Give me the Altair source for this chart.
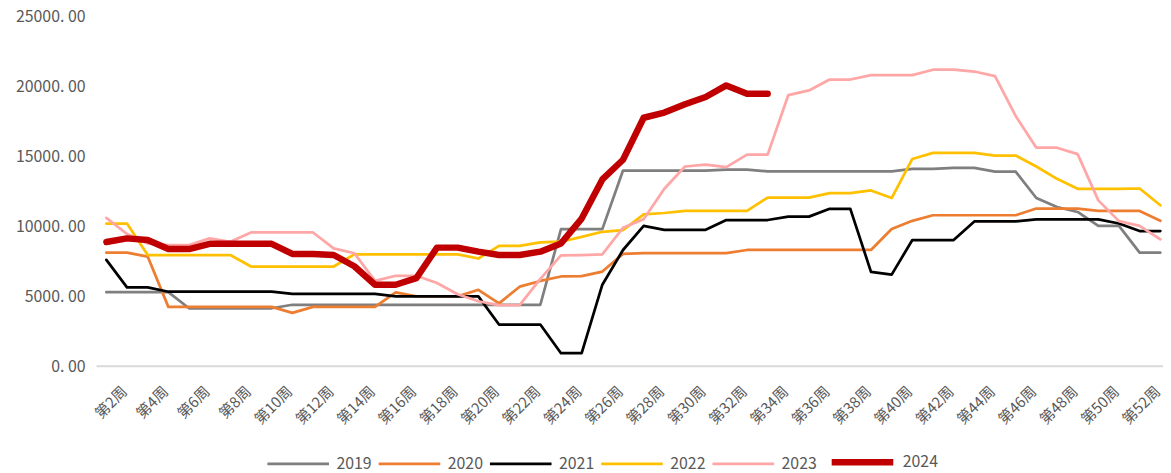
import altair as alt
import pandas as pd

weeks = list(range(1, 53))
years = ["2019", "2020", "2021", "2022", "2023", "2024"]
colors = ["#7F7F7F", "#ED7D31", "#000000", "#FFC000", "#FFA6A6", "#C00000"]
widths = [2.75, 2.75, 2.75, 2.75, 2.75, 6.5]
tick_weeks = [2, 4, 6, 8, 10, 12, 14, 16, 18, 20, 22, 24, 26, 28, 30, 32, 34,
              36, 38, 40, 42, 44, 46, 48, 50, 52]
y_ticks = [0, 5000, 10000, 15000, 20000, 25000]

v2019 = [5250, 5250, 5250, 5250, 4100, 4100, 4100, 4100, 4100, 4350,
         4350, 4350, 4350, 4350, 4350, 4350, 4350, 4350, 4350, 4350,
         4350, 4350, 9750, 9750, 9750, 13930, 13930, 13930, 13930, 13930,
         14000, 14000, 13870, 13870, 13870, 13870, 13870, 13870, 13870, 14050,
         14050, 14120, 14120, 13860, 13860, 11970, 11330, 10975, 9980, 9980,
         8070, 8070]
v2020 = [8070, 8070, 7790, 4200, 4200, 4200, 4200, 4200, 4200, 3770,
         4200, 4200, 4200, 4200, 5230, 4950, 4950, 4950, 5420, 4450,
         5640, 6050, 6370, 6390, 6720, 7980, 8030, 8030, 8030, 8030,
         8030, 8260, 8260, 8260, 8260, 8260, 8260, 8260, 9760, 10340,
         10740, 10740, 10740, 10740, 10740, 11220, 11220, 11220, 11050, 11050,
         11050, 10340]
v2021 = [7550, 5590, 5590, 5280, 5280, 5280, 5280, 5280, 5280, 5120,
         5120, 5120, 5120, 5120, 4950, 4950, 4950, 4950, 4950, 2940,
         2940, 2940, 890, 890, 5780, 8260, 9980, 9700, 9700, 9700,
         10400, 10400, 10400, 10640, 10640, 11200, 11200, 6700, 6500, 8970,
         8970, 8970, 10300, 10300, 10300, 10450, 10450, 10450, 10450, 10150,
         9610, 9610]
v2022 = [10150, 10150, 7900, 7900, 7900, 7900, 7900, 7080, 7080, 7080,
         7080, 7080, 7950, 7950, 7950, 7950, 7950, 7950, 7650, 8550,
         8550, 8800, 8850, 9200, 9560, 9680, 10800, 10900, 11050, 11050,
         11050, 11050, 12000, 12000, 12000, 12320, 12320, 12510, 11970, 14760,
         15190, 15190, 15190, 15000, 15000, 14220, 13340, 12630, 12630, 12630,
         12650, 11450]
v2023 = [10550, 9400, 8730, 8610, 8610, 9090, 8850, 9510, 9510, 9510,
         9510, 8380, 8030, 6060, 6420, 6420, 5900, 5100, 4600, 4330,
         4330, 6200, 7870, 7900, 7950, 9850, 10450, 12630, 14220, 14360,
         14170, 15070, 15070, 19320, 19650, 20430, 20430, 20740, 20740, 20740,
         21130, 21130, 21000, 20670, 17830, 15560, 15560, 15100, 11800, 10320,
         9980, 9020]
v2024 = [8830, 9090, 8970, 8330, 8330, 8700, 8700, 8700, 8700, 7980,
         7980, 7900, 7100, 5780, 5780, 6250, 8430, 8430, 8140, 7900,
         7900, 8140, 8730, 10500, 13300, 14700, 17700, 18070, 18660, 19180,
         20010, 19410, 19410]

series = [v2019, v2020, v2021, v2022, v2023, v2024]
rows = []
for yr, vals in zip(years, series):
    for w, v in zip(weeks, vals):
        rows.append({"week": w, "year": yr, "value": v})
df = pd.DataFrame(rows)

FONT = "Noto Sans CJK SC"
TXT = "#595959"


def make_legend():
    return alt.Legend(
        title=None, orient="none", direction="horizontal",
        legendX=171, legendY=415,
        symbolType="stroke", symbolSize=3844,
        labelFontSize=16, labelColor=TXT, labelFont=FONT,
        labelOffset=6, columnPadding=1, padding=0)


chart = alt.Chart(df).mark_line(strokeJoin="round", strokeCap="round").encode(
    x=alt.X("week:Q",
            scale=alt.Scale(domain=[0.5, 52.13], nice=False, zero=False),
            axis=alt.Axis(values=tick_weeks, title=None, grid=False, ticks=False,
                          labelExpr="'第' + datum.value + '周'",
                          labelAngle=-45, labelAlign="right", labelBaseline="middle",
                          labelPadding=23, labelOffset=-3, labelFontSize=15,
                          labelColor=TXT, labelFont=FONT, labelOverlap=False,
                          labelBound=False, labelFlush=False,
                          domainColor="#D9D9D9", domainWidth=2)),
    y=alt.Y("value:Q",
            scale=alt.Scale(domain=[0, 25000], nice=False),
            axis=alt.Axis(values=y_ticks, title=None, grid=False, ticks=False,
                          domain=False, labelOffset=1,
                          labelExpr="replace(format(datum.value, '.2f'), '.', '. ')",
                          labelPadding=11, labelFontSize=16, labelColor=TXT,
                          labelFont=FONT)),
    color=alt.Color("year:N",
                    scale=alt.Scale(domain=years, range=colors),
                    legend=make_legend()),
    strokeWidth=alt.StrokeWidth("year:N",
                                scale=alt.Scale(type="ordinal", domain=years,
                                                range=widths),
                                legend=make_legend()),
).properties(
    width=1074,
    height=352.5,
    autosize=alt.AutoSizeParams(type="none"),
    padding={"left": 88.6, "top": 6, "right": 0, "bottom": 112},
).configure(background="white").configure_view(stroke=None)

chart.save("out.html", embed_options={"renderer": "svg", "actions": False})
